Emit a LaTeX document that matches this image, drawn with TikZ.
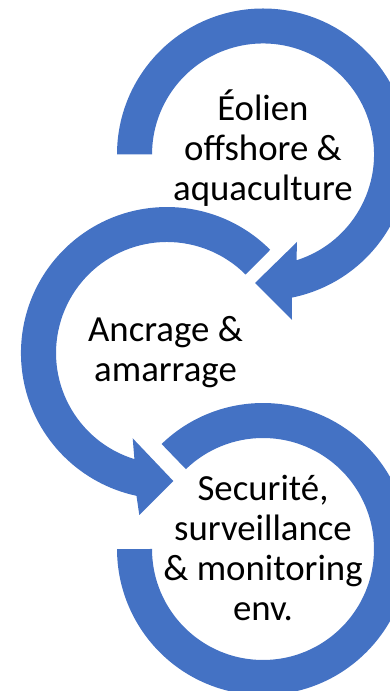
\documentclass[tikz,border=0pt]{standalone}
\usepackage{fontspec}
\setmainfont{Carlito}
\definecolor{ringblue}{HTML}{4472C4}
\tikzset{
  ring/.style={fill=ringblue, draw=none},
  lbl/.style={align=center, inner sep=0pt, anchor=base, font=\fontsize{36.8}{40}\selectfont}
}

\begin{document}
\begin{tikzpicture}[x=1pt,y=1pt]
\useasboundingbox (0,0) rectangle (390,691);
\clip (0,0) rectangle (390,691);

% top ring, its head points into the middle ring
\fill[ring] (117,536.5) arc[start angle=180, end angle=-78.6, radius=146]
  -- (292,371) -- (255,408) -- (297,449) -- (296.5,430.7)
  arc[start angle=-72.45, end angle=180, radius=111] -- cycle;

% middle ring
\fill[ring] (270.2,441.2) arc[start angle=45, end angle=257.95, radius=146]
  -- (139.3,176) -- (173.3,210) -- (132.7,252.7) -- (134.4,231.9)
  arc[start angle=252.9, end angle=45, radius=111] -- cycle;

% bottom ring, no head
\fill[ring] (161.6,247) arc[start angle=134, end angle=-180, radius=146]
  -- (152,142) arc[start angle=-180, end angle=134, radius=111] -- cycle;

%%%%%%%%%%%%%%%%%%%%%%%%%%%%%%%%%%%%%%%%
% base = last line
\node[lbl] (eolien) at (263,490.5) {Éolien\\offshore \&\\aquaculture};
\node[lbl] (ancrage) at (165.5,309.3) {Ancrage \&\\amarrage};
\node[lbl] (securite) at (263,70.5) {Securité,\\surveillance\\\& monitoring\\env.};

\end{tikzpicture}
\end{document}
